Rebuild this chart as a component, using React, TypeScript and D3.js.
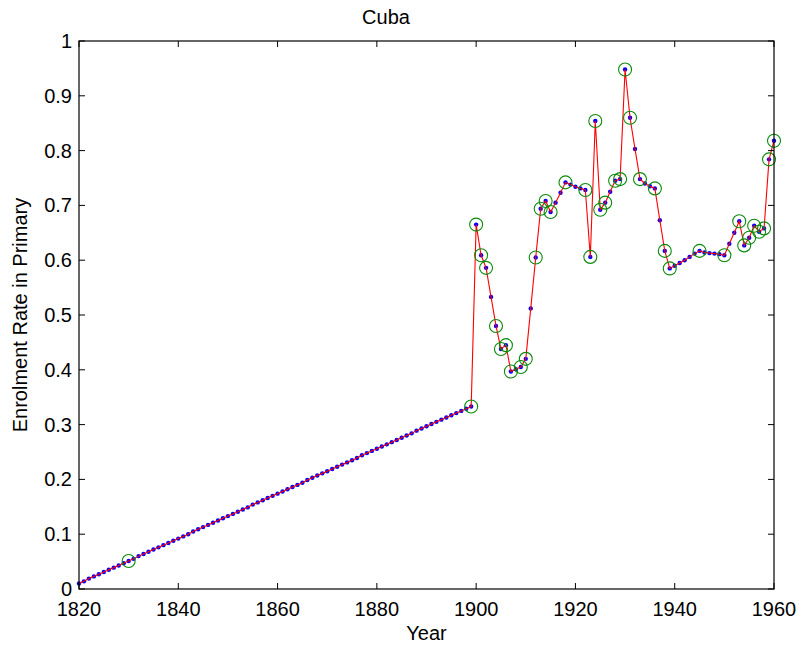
import React from "react";
import * as d3 from "d3";

const title = "Cuba";
const xLabel = "Year";
const yLabel = "Enrolment Rate in Primary";

const firstYear = 1820;
const lastYear = 1960;

// Enrolment rate for every year 1820..1960 (blue dots, red line)
const rates: number[] = [
  0.010, 0.014, 0.019, 0.023, 0.027, 0.031, 0.035, 0.039, 0.043, 0.047,
  0.051, 0.055, 0.060, 0.064, 0.068, 0.072, 0.076, 0.080, 0.084, 0.088,
  0.092, 0.096, 0.100, 0.105, 0.109, 0.113, 0.117, 0.121, 0.125, 0.129,
  0.133, 0.137, 0.141, 0.145, 0.149, 0.154, 0.158, 0.162, 0.166, 0.170,
  0.174, 0.178, 0.182, 0.186, 0.190, 0.194, 0.199, 0.203, 0.207, 0.211,
  0.215, 0.219, 0.223, 0.227, 0.231, 0.235, 0.239, 0.244, 0.248, 0.252,
  0.256, 0.260, 0.264, 0.268, 0.272, 0.276, 0.280, 0.284, 0.289, 0.293,
  0.297, 0.301, 0.305, 0.309, 0.313, 0.317, 0.321, 0.325, 0.329, 0.333,
  0.665, 0.609, 0.586, 0.533, 0.480, 0.438, 0.445, 0.397, 0.401, 0.405,
  0.420, 0.512, 0.605, 0.694, 0.708, 0.688, 0.705, 0.723, 0.742, 0.738,
  0.734, 0.731, 0.728, 0.606, 0.854, 0.692, 0.705, 0.725, 0.745, 0.748,
  0.948, 0.860, 0.803, 0.748, 0.740, 0.735, 0.731, 0.673, 0.617, 0.585,
  0.590, 0.595, 0.600, 0.606, 0.612, 0.617, 0.614, 0.613, 0.612, 0.611,
  0.609, 0.630, 0.650, 0.671, 0.627, 0.641, 0.663, 0.652, 0.658, 0.784,
  0.818,
];

// Years with observed data (green circles)
const observedYears: number[] = [
  1830, 1899, 1900, 1901, 1902, 1904, 1905, 1906, 1907, 1909, 1910, 1912,
  1913, 1914, 1915, 1918, 1922, 1923, 1924, 1925, 1926, 1928, 1929, 1930,
  1931, 1933, 1936, 1938, 1939, 1945, 1950, 1953, 1954, 1955, 1956, 1957,
  1958, 1959, 1960,
];

const xTicks: number[] = [1820, 1840, 1860, 1880, 1900, 1920, 1940, 1960];
const yTicks: number[] = [0, 0.1, 0.2, 0.3, 0.4, 0.5, 0.6, 0.7, 0.8, 0.9, 1];

const W = 804;
const H = 649;
const L = 79;
const R = 774;
const T = 41;
const B = 589;
const FONT = "'Liberation Sans', Arial, Helvetica, sans-serif";

export default function App() {
  const years = d3.range(firstYear, lastYear + 1);
  const data = years.map((y, i) => ({ year: y, v: rates[i] }));
  const obs = data.filter((d) => observedYears.includes(d.year));

  const x = d3.scaleLinear().domain([firstYear, lastYear]).range([L, R]);
  const y = d3.scaleLinear().domain([0, 1]).range([B, T]);

  const line = d3
    .line<{ year: number; v: number }>()
    .x((d) => x(d.year))
    .y((d) => y(d.v));

  const tickLen = 6;

  return (
    <svg
      width={W}
      height={H}
      style={{ position: "absolute", left: 0, top: 0, background: "#fff" }}
      fontFamily={FONT}
    >
      <rect x={0} y={0} width={W} height={H} fill="#fff" />
      {/* blue dots */}
      {data.map((d) => (
        <circle key={"b" + d.year} cx={x(d.year)} cy={y(d.v)} r={2.2} fill="#0000ff" />
      ))}
      {/* red line */}
      <path d={line(data) || ""} fill="none" stroke="#ff0000" strokeWidth={1.1} />
      {/* green circles */}
      {obs.map((d) => (
        <circle
          key={"g" + d.year}
          cx={x(d.year)}
          cy={y(d.v)}
          r={6.5}
          fill="none"
          stroke="#0a8a0a"
          strokeWidth={1.1}
        />
      ))}
      {/* axes box */}
      <rect x={L} y={T} width={R - L} height={B - T} fill="none" stroke="#000" strokeWidth={1.2} />
      {xTicks.map((t) => (
        <g key={"x" + t}>
          <line x1={x(t)} x2={x(t)} y1={B} y2={B - tickLen} stroke="#000" strokeWidth={1} />
          <line x1={x(t)} x2={x(t)} y1={T} y2={T + tickLen} stroke="#000" strokeWidth={1} />
          <text x={x(t)} y={616} textAnchor="middle" fontSize={20} fill="#000">
            {t}
          </text>
        </g>
      ))}
      {yTicks.map((t) => (
        <g key={"y" + t}>
          <line x1={L} x2={L + tickLen} y1={y(t)} y2={y(t)} stroke="#000" strokeWidth={1} />
          <line x1={R} x2={R - tickLen} y1={y(t)} y2={y(t)} stroke="#000" strokeWidth={1} />
          <text x={72} y={y(t) + 7} textAnchor="end" fontSize={20} fill="#000">
            {d3.format("")(t)}
          </text>
        </g>
      ))}
      <text x={386} y={24} textAnchor="middle" fontSize={20} fill="#000">
        {title}
      </text>
      <text x={(L + R) / 2} y={640} textAnchor="middle" fontSize={20} fill="#000">
        {xLabel}
      </text>
      <text
        transform={`translate(27,${(T + B) / 2}) rotate(-90)`}
        textAnchor="middle"
        fontSize={20}
        fill="#000"
      >
        {yLabel}
      </text>
    </svg>
  );
}
